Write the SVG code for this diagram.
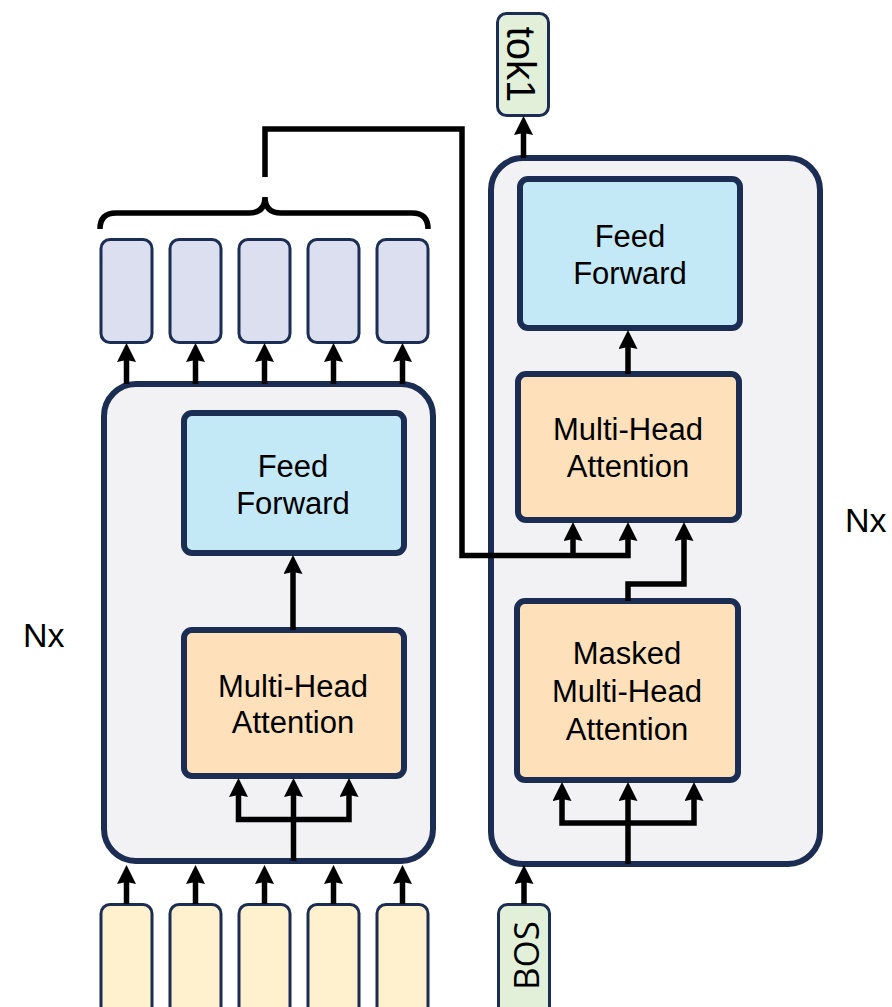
<svg xmlns="http://www.w3.org/2000/svg" width="892" height="1007" viewBox="0 0 892 1007">
  <defs>
    <style>
      .stack { fill: #f2f2f4; stroke: #1b2d52; stroke-width: 6; }
      .ff { fill: #c3e8f6; stroke: #1b2d52; stroke-width: 6; }
      .mha { fill: #fee0ba; stroke: #1b2d52; stroke-width: 6; }
      .out { fill: #dbdff0; stroke: #1b2d52; stroke-width: 3; }
      .inp { fill: #fff1cd; stroke: #1b2d52; stroke-width: 3; }
      .tok { fill: #e2f0da; stroke: #1b2d52; stroke-width: 3; }
      .lbl { font-family: "Liberation Sans", Arial, sans-serif; font-size: 31px; fill: #000; text-anchor: middle; }
      .nx { font-family: "Liberation Sans", Arial, sans-serif; font-size: 34px; fill: #000; }
      .wire { fill: none; stroke: #000; stroke-width: 5.5; stroke-linejoin: miter; }
      .arrow { fill: none; stroke: #000; stroke-width: 5.5; marker-end: url(#head); }
      .fork { fill: none; stroke: #000; stroke-width: 5.5; marker-start: url(#head); marker-end: url(#head); }
    </style>
    <marker id="head" markerUnits="userSpaceOnUse" markerWidth="19" markerHeight="19" viewBox="0 0 19 19" refX="6" refY="9.5" orient="auto-start-reverse">
      <path d="M0,0 L19,9.5 L0,19 L2,9.5 z" fill="#000"/>
    </marker>
  </defs>

  <!-- encoder stack -->
  <g id="encoder">
    <rect class="stack" x="104" y="384" width="329" height="477" rx="32"/>
  </g>
  <g id="enc-ff">
    <rect class="ff" x="184" y="413" width="220" height="140" rx="8"/>
    <text class="lbl" x="293" y="477">Feed</text>
    <text class="lbl" x="293" y="514">Forward</text>
  </g>
  <g id="enc-mha">
    <rect class="mha" x="184" y="630" width="220" height="146" rx="8"/>
    <text class="lbl" x="293" y="697">Multi-Head</text>
    <text class="lbl" x="293" y="733">Attention</text>
  </g>
  <g id="enc-nx">
    <text class="nx" x="23" y="647">Nx</text>
  </g>

  <!-- decoder stack -->
  <g id="decoder">
    <rect class="stack" x="491" y="158" width="329" height="706" rx="32"/>
  </g>
  <g id="dec-ff">
    <rect class="ff" x="520" y="179" width="220" height="149" rx="8"/>
    <text class="lbl" x="630" y="247">Feed</text>
    <text class="lbl" x="630" y="284">Forward</text>
  </g>
  <g id="dec-mha">
    <rect class="mha" x="518" y="374" width="221" height="146" rx="8"/>
    <text class="lbl" x="628" y="440">Multi-Head</text>
    <text class="lbl" x="628" y="477">Attention</text>
  </g>
  <g id="dec-masked">
    <rect class="mha" x="517" y="601" width="221" height="179" rx="8"/>
    <text class="lbl" x="627" y="664">Masked</text>
    <text class="lbl" x="627" y="702">Multi-Head</text>
    <text class="lbl" x="627" y="740">Attention</text>
  </g>
  <g id="dec-nx">
    <text class="nx" x="845" y="532">Nx</text>
  </g>

  <!-- encoder outputs -->
  <g id="enc-out-1"><rect class="out" x="101" y="239.5" width="51" height="103" rx="9"/></g>
  <g id="enc-out-2"><rect class="out" x="170" y="239.5" width="51" height="103" rx="9"/></g>
  <g id="enc-out-3"><rect class="out" x="239" y="239.5" width="51" height="103" rx="9"/></g>
  <g id="enc-out-4"><rect class="out" x="308" y="239.5" width="51" height="103" rx="9"/></g>
  <g id="enc-out-5"><rect class="out" x="377" y="239.5" width="51" height="103" rx="9"/></g>

  <!-- encoder inputs -->
  <g id="enc-in-1"><rect class="inp" x="101" y="904.5" width="51" height="112" rx="9"/></g>
  <g id="enc-in-2"><rect class="inp" x="170" y="904.5" width="51" height="112" rx="9"/></g>
  <g id="enc-in-3"><rect class="inp" x="239" y="904.5" width="51" height="112" rx="9"/></g>
  <g id="enc-in-4"><rect class="inp" x="308" y="904.5" width="51" height="112" rx="9"/></g>
  <g id="enc-in-5"><rect class="inp" x="377" y="904.5" width="51" height="112" rx="9"/></g>

  <!-- decoder tokens -->
  <g id="tok1">
    <rect class="tok" x="497.5" y="13.5" width="51" height="102" rx="9"/>
    <text transform="translate(507,64.5) rotate(90)" font-family="Liberation Sans, Arial, sans-serif" font-size="40" text-anchor="middle" fill="#000">tok1</text>
  </g>
  <g id="bos">
    <rect class="tok" x="498.5" y="904.5" width="51" height="112" rx="9"/>
    <text transform="translate(539,955.5) rotate(-90)" font-family="Open Sans, Liberation Sans, sans-serif" font-size="35" text-anchor="middle" fill="#000">BOS</text>
  </g>

  <!-- connectors -->
  <g id="connectors">
    <!-- brace grouping the encoder outputs -->
    <path class="wire" stroke-linejoin="round" d="M100,229 Q100,213 116,213 L249,213 Q265,213 265,197 Q265,213 281,213 L412,213 Q428,213 428,229"/>
    <!-- encoder memory into decoder attention -->
    <path class="arrow" d="M265,177 V129 H462 V555.5 H628 V535"/>
    <path class="arrow" d="M573,555.5 V535"/>
    <path class="arrow" d="M628,601 V584 H684 V535"/>

    <!-- encoder stack outputs -->
    <path class="arrow" d="M126.5,384 V356"/>
    <path class="arrow" d="M195.5,384 V356"/>
    <path class="arrow" d="M264.5,384 V356"/>
    <path class="arrow" d="M333.5,384 V356"/>
    <path class="arrow" d="M402.5,384 V356"/>

    <!-- encoder stack inputs -->
    <path class="arrow" d="M126.5,904 V878"/>
    <path class="arrow" d="M195.5,904 V878"/>
    <path class="arrow" d="M264.5,904 V878"/>
    <path class="arrow" d="M333.5,904 V878"/>
    <path class="arrow" d="M402.5,904 V878"/>

    <!-- encoder internals -->
    <path class="arrow" d="M293.5,861 V791"/>
    <path class="fork" d="M238.5,791 V819.5 H349 V791"/>
    <path class="arrow" d="M293,630 V568"/>

    <!-- decoder internals -->
    <path class="arrow" d="M628,864 V795"/>
    <path class="fork" d="M562,795 V823 H694 V795"/>
    <path class="arrow" d="M628,374 V343"/>

    <!-- decoder in / out -->
    <path class="arrow" d="M523.5,158 V129"/>
    <path class="arrow" d="M524,904 V878"/>
  </g>
</svg>
